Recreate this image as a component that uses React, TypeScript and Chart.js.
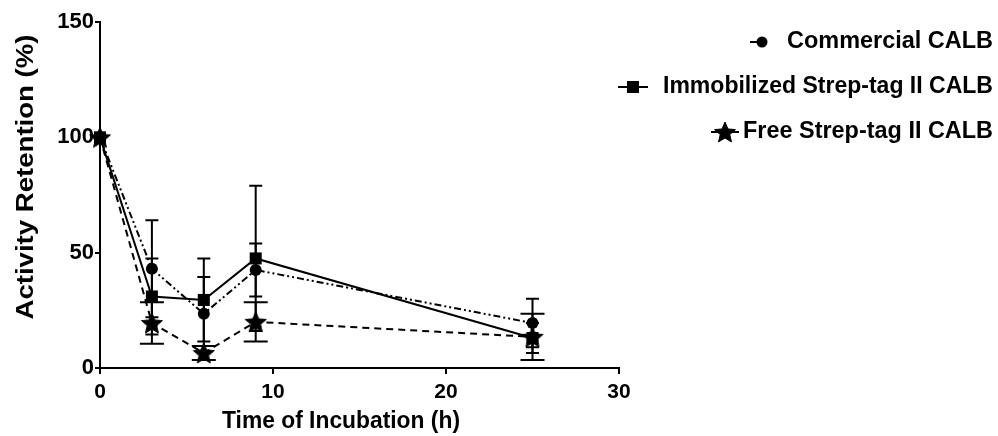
import React, { useEffect, useRef } from 'react';
import { Chart, registerables } from 'chart.js';

Chart.register(...registerables);

// ---- data ----
const times = [0, 3, 6, 9, 25];
const commercial = [100, 43, 23.5, 42.5, 19.5];
const commercialErr = [0, 21, 16, 11.5, 10.5];
const immobilized = [100, 31, 29.5, 47.5, 13];
const immobilizedErr = [0, 16.5, 18, 31.5, 6.5];
const free = [100, 19.5, 6.5, 20, 13.5];
const freeErr = [0, 9, 3, 8.5, 10];
const seriesNames = ['Commercial CALB', 'Immobilized Strep-tag II CALB', 'Free Strep-tag II CALB'];
const xTitle = 'Time of Incubation (h)';
const yTitle = 'Activity Retention (%)';
const xRange = [0, 30];
const yRange = [0, 150];
const xStep = 10;
const yStep = 50;

const FONT = '"Liberation Sans", Arial, Helvetica, sans-serif';

function makeStar(outer: number, inner: number): HTMLCanvasElement {
  const c = document.createElement('canvas');
  const s = Math.ceil(outer * 2 + 2);
  c.width = s;
  c.height = s;
  const ctx = c.getContext('2d')!;
  ctx.fillStyle = '#000';
  ctx.strokeStyle = '#000';
  ctx.lineWidth = 1;
  ctx.beginPath();
  for (let i = 0; i < 10; i++) {
    const r = i % 2 === 0 ? outer : inner;
    const a = -Math.PI / 2 + (i * Math.PI) / 5;
    ctx.lineTo(s / 2 + r * Math.cos(a), s / 2 + r * Math.sin(a) + 1);
  }
  ctx.closePath();
  ctx.fill();
  ctx.stroke();
  return c;
}

function drawFitted(ctx: CanvasRenderingContext2D, text: string, cx: number, cy: number, font: string, targetW: number, rot: number) {
  ctx.save();
  ctx.font = font;
  const w = ctx.measureText(text).width;
  ctx.translate(cx, cy);
  ctx.rotate(rot);
  ctx.scale(targetW / w, 1);
  ctx.textAlign = 'center';
  ctx.textBaseline = 'middle';
  ctx.fillStyle = '#000';
  ctx.fillText(text, 0, 0);
  ctx.restore();
}

export default function App() {
  const ref = useRef<HTMLCanvasElement | null>(null);

  useEffect(() => {
    if (!ref.current) return;
    const star = makeStar(11, 5);
    const errors = [commercialErr, immobilizedErr, freeErr];
    const capHalf = [6.5, 6.5, 12];
    const dashes = [[7, 3, 2, 3, 2, 3], [], [7, 5]];

    const errorBars = {
      id: 'errorBars',
      beforeDatasetsDraw(chart: any) {
        const { ctx } = chart;
        const xs = chart.scales.x;
        const ys = chart.scales.y;
        ctx.save();
        ctx.strokeStyle = '#000';
        ctx.lineWidth = 2;
        chart.data.datasets.forEach((ds: any, i: number) => {
          ds.data.forEach((p: any, j: number) => {
            const e = errors[i][j];
            if (!e) return;
            const px = xs.getPixelForValue(p.x);
            const top = ys.getPixelForValue(p.y + e);
            const bot = ys.getPixelForValue(p.y - e);
            ctx.beginPath();
            ctx.moveTo(px, top);
            ctx.lineTo(px, bot);
            ctx.moveTo(px - capHalf[i], top);
            ctx.lineTo(px + capHalf[i], top);
            ctx.moveTo(px - capHalf[i], bot);
            ctx.lineTo(px + capHalf[i], bot);
            ctx.stroke();
          });
        });
        ctx.restore();
      },
    };

    const overlay = {
      id: 'overlay',
      afterDraw(chart: any) {
        const { ctx } = chart;
        drawFitted(ctx, xTitle, 341, 422, `bold 23px ${FONT}`, 238, 0);
        drawFitted(ctx, yTitle, 27, 177, `bold 23px ${FONT}`, 285, -Math.PI / 2);
        // legend
        const legendFont = `bold 23px ${FONT}`;
        const items = [
          { cx: 890, w: 206, y: 42, mx: 762 },
          { cx: 828, w: 330, y: 87, mx: 633 },
          { cx: 868, w: 250, y: 132, mx: 725 },
        ];
        items.forEach((it, i) => {
          drawFitted(ctx, seriesNames[i], it.cx, it.y, legendFont, it.w, 0);
          ctx.save();
          ctx.strokeStyle = '#000';
          ctx.fillStyle = '#000';
          ctx.lineWidth = 2;
          ctx.beginPath();
          if (i === 0) {
            ctx.moveTo(it.mx - 12, it.y);
            ctx.lineTo(it.mx - 5, it.y);
          } else if (i === 1) {
            ctx.moveTo(it.mx - 15, it.y);
            ctx.lineTo(it.mx + 15, it.y);
          } else {
            ctx.moveTo(it.mx - 14, it.y);
            ctx.lineTo(it.mx + 14, it.y);
          }
          ctx.stroke();
          if (i === 0) {
            ctx.beginPath();
            ctx.arc(it.mx, it.y, 5.5, 0, Math.PI * 2);
            ctx.fill();
          } else if (i === 1) {
            ctx.fillRect(it.mx - 6, it.y - 6, 12, 12);
          } else {
            ctx.drawImage(star, it.mx - star.width / 2, it.y - star.height / 2);
          }
          ctx.restore();
        });
      },
    };

    const mk = (vals: number[]) => vals.map((v, j) => ({ x: times[j], y: v }));

    const chart = new Chart(ref.current, {
      type: 'scatter',
      data: {
        datasets: [
          {
            label: seriesNames[0],
            data: mk(commercial),
            showLine: true,
            borderColor: '#000',
            backgroundColor: '#000',
            borderWidth: 2,
            borderDash: dashes[0],
            pointStyle: 'circle',
            pointRadius: 6,
            pointBorderWidth: 0,
            clip: false,
          },
          {
            label: seriesNames[1],
            data: mk(immobilized),
            showLine: true,
            borderColor: '#000',
            backgroundColor: '#000',
            borderWidth: 2,
            borderDash: dashes[1],
            pointStyle: 'rect',
            pointRadius: 8.5,
            pointBorderWidth: 0,
            clip: false,
          },
          {
            label: seriesNames[2],
            data: mk(free),
            showLine: true,
            borderColor: '#000',
            backgroundColor: '#000',
            borderWidth: 2,
            borderDash: dashes[2],
            pointStyle: star as any,
            pointRadius: 11,
            clip: false,
          },
        ] as any,
      },
      options: {
        animation: false,
        responsive: true,
        maintainAspectRatio: false,
        layout: { padding: { top: 22, right: 379, left: 0, bottom: 0 } },
        plugins: { legend: { display: false }, tooltip: { enabled: false } },
        scales: {
          x: {
            type: 'linear',
            min: xRange[0],
            max: xRange[1],
            ticks: { stepSize: xStep, color: '#000', font: { family: FONT, size: 21, weight: 'bold' }, padding: 6 },
            grid: { display: true, drawOnChartArea: false, drawTicks: true, tickLength: 6, color: '#000', lineWidth: 2 },
            border: { display: true, color: '#000', width: 2 },
            afterFit: (s: any) => { s.height = 68; },
          },
          y: {
            type: 'linear',
            min: yRange[0],
            max: yRange[1],
            ticks: { stepSize: yStep, color: '#000', font: { family: FONT, size: 22, weight: 'bold' }, padding: 1 },
            grid: { display: true, drawOnChartArea: false, drawTicks: true, tickLength: 5, color: '#000', lineWidth: 2 },
            border: { display: true, color: '#000', width: 2 },
            afterFit: (s: any) => { s.width = 100; },
          },
        },
      } as any,
      plugins: [errorBars, overlay],
    });
    return () => chart.destroy();
  }, []);

  return (
    <div style={{ position: 'fixed', left: 0, top: 0, width: 998, height: 436, background: '#fff' }}>
      <canvas ref={ref} />
    </div>
  );
}
